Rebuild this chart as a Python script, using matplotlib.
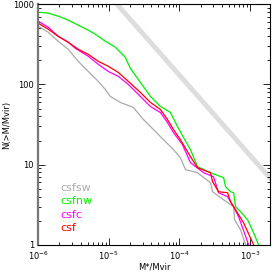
import numpy as np
import matplotlib
matplotlib.use("Agg")
import matplotlib.pyplot as plt
from matplotlib.ticker import LogLocator, FixedLocator, NullFormatter

# Cumulative counts N(>M/Mvir)
csf_x = [1e-6, 1.39e-6, 1.92e-6, 2.67e-6, 3.69e-6, 5.12e-6, 7.10e-6, 9.84e-6, 1.36e-5, 1.89e-5,
         2.80e-5, 3.88e-5, 5.37e-5, 6.76e-5, 8.22e-5, 1.03e-4, 1.43e-4, 1.80e-4, 2.75e-4, 2.94e-4,
         3.57e-4, 4.80e-4, 5.28e-4, 6.22e-4, 8.09e-4, 1.12e-3]
csf_n = [579, 487, 398, 335, 274, 237, 194, 168, 141, 109,
         79.4, 59.6, 48.7, 36.5, 27.4, 20.5, 12.6, 9.17, 7.94, 6.13,
         4.60, 4.47, 3.45, 2.74, 1.88, 1.0]

csfc_x = [1e-6, 1.39e-6, 1.92e-6, 2.67e-6, 3.35e-6, 5.12e-6, 7.10e-6, 9.84e-6, 1.36e-5, 1.89e-5,
          2.80e-5, 3.88e-5, 5.37e-5, 6.76e-5, 8.22e-5, 1.10e-4, 1.43e-4, 2.19e-4, 3.03e-4, 3.57e-4,
          4.80e-4, 5.83e-4, 6.87e-4, 9.53e-4]
csfc_n = [613, 516, 398, 335, 282, 224, 178, 145, 126, 100,
          70.8, 53.1, 44.7, 33.5, 25.1, 17.8, 10.6, 7.94, 7.08, 4.47,
          3.98, 2.99, 2.24, 1.0]

csfnw_x = [1e-6, 1.39e-6, 1.92e-6, 2.67e-6, 3.69e-6, 5.12e-6, 6.44e-6, 8.92e-6, 1.24e-5, 1.71e-5,
           2.02e-5, 2.80e-5, 3.88e-5, 5.37e-5, 7.45e-5, 9.37e-5, 1.14e-4, 1.43e-4, 1.80e-4, 2.75e-4,
           4.21e-4, 4.49e-4, 5.28e-4, 5.83e-4, 6.22e-4, 7.33e-4, 9.22e-4, 1.12e-3, 1.32e-3]
csfnw_n = [794, 772, 708, 631, 547, 473, 422, 345, 290, 218,
           158, 106, 70.8, 53.1, 44.7, 29.9, 21.8, 15.4, 9.44, 7.94,
           6.88, 5.31, 4.60, 4.47, 2.99, 2.59, 2.05, 1.41, 1.0]

csfsw_x = [1e-6, 1.39e-6, 1.92e-6, 2.67e-6, 3.69e-6, 5.12e-6, 7.10e-6, 8.92e-6, 1.05e-5, 1.46e-5,
           2.23e-5, 3.09e-5, 4.28e-5, 5.93e-5, 8.22e-5, 1.03e-4, 1.22e-4, 1.80e-4, 2.75e-4, 2.94e-4,
           4.21e-4, 5.83e-4, 6.03e-4, 7.33e-4, 8.63e-4]
csfsw_n = [531, 447, 345, 274, 194, 145, 109, 86.6, 70.8, 59.6,
           51.6, 36.5, 27.4, 20.5, 15.4, 12.2, 8.66, 7.94, 5.96, 4.60,
           3.65, 2.99, 2.05, 1.54, 1.0]

# reference power law N = A / x
ref_amp = 0.013
ref_x = [1e-6, 3e-3]

series_names = ["csfsw", "csfnw", "csfc", "csf"]
series_colors = ["#aaaaaa", "#00ee00", "#ff00ff", "#ff0000"]

fig = plt.figure(figsize=(2.74, 2.74), dpi=100)
ax = fig.add_axes([0.139, 0.106, 0.846, 0.879])

rx = np.array(ref_x)
ax.plot(rx, ref_amp / rx, color="#dddddd", lw=3.5, solid_capstyle="butt", zorder=1)

data = {"csfsw": (csfsw_x, csfsw_n), "csfnw": (csfnw_x, csfnw_n),
        "csfc": (csfc_x, csfc_n), "csf": (csf_x, csf_n)}
for name, col in zip(series_names, series_colors):
    x, n = data[name]
    ax.plot(x, n, color=col, lw=0.9, zorder=2)

ax.set_xscale("log")
ax.set_yscale("log")
ax.set_xlim(1e-6, 1.9e-3)
ax.set_ylim(1, 1000)

ax.yaxis.set_major_locator(FixedLocator([1, 10, 100, 1000]))
ax.set_yticklabels(["1", "10", "100", "1000"])
ax.yaxis.set_minor_locator(LogLocator(base=10, subs=np.arange(2, 10)))
ax.yaxis.set_minor_formatter(NullFormatter())
ax.xaxis.set_major_locator(FixedLocator([1e-6, 1e-5, 1e-4, 1e-3]))
ax.set_xticklabels([r"10$^{-6}$", r"10$^{-5}$", r"10$^{-4}$", r"10$^{-3}$"])
ax.xaxis.set_minor_locator(LogLocator(base=10, subs=np.arange(2, 10)))
ax.xaxis.set_minor_formatter(NullFormatter())

ax.tick_params(which="both", direction="in", top=True, right=True, labelsize=6, width=0.6, pad=3)
ax.tick_params(which="major", length=5)
ax.tick_params(which="minor", length=2.5)
for s in ax.spines.values():
    s.set_linewidth(0.8)
ax.spines["left"].set_linewidth(1.6)
ax.spines["left"].set_color("#777777")

ax.set_xlabel("M*/Mvir", fontsize=6, labelpad=1)
ax.set_ylabel("N(>M/Mvir)", fontsize=6, labelpad=1)

leg_y = [0.237, 0.183, 0.124, 0.071]
for name, col, yy in zip(series_names, series_colors, leg_y):
    ax.text(0.095, yy, name, color=col, fontsize=8, transform=ax.transAxes, va="center", ha="left")

fig.savefig("out.png", dpi=100)
